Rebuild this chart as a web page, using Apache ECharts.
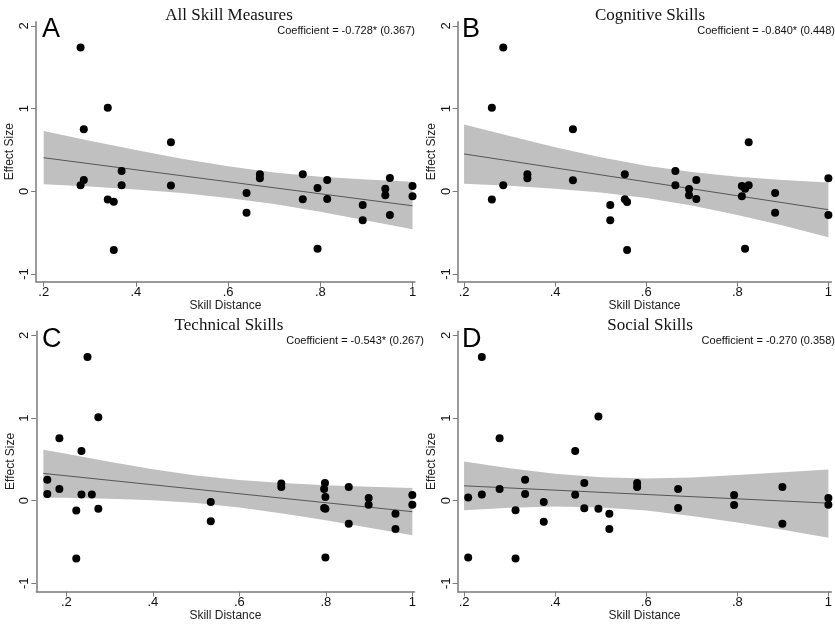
<!DOCTYPE html>
<html lang="en">
<head>
<meta charset="UTF-8">
<title>Skill distance and effect size</title>
<script src="https://cdn.jsdelivr.net/npm/echarts@6/dist/echarts.min.js"></script>
<style>
  html, body { margin: 0; padding: 0; background: #fff; }
  #chart { width: 835px; height: 624px; }
</style>
</head>
<body>
<div id="chart"></div>
<script>
// A - all skill measures
var distA = [0.280, 0.287, 0.287, 0.280, 0.339, 0.339, 0.352, 0.352, 0.369, 0.369, 0.476, 0.476, 0.640, 0.640, 0.669,
             0.669, 0.762, 0.762, 0.794, 0.794, 0.815, 0.815, 0.892, 0.892, 0.941, 0.941, 0.951, 0.951, 1.000, 1.000];
var effA = [1.74, 0.75, 0.137, 0.073, 1.01, -0.10, -0.125, -0.71, 0.246, 0.073, 0.593, 0.069, -0.02, -0.258, 0.206,
            0.157, 0.206, -0.097, 0.04, -0.694, 0.137, -0.093, -0.165, -0.35, 0.032, -0.048, 0.161, -0.286, 0.065, -0.06];
var bandXA = [0.2, 0.3, 0.4, 0.5, 0.6, 0.7, 0.8, 0.9, 1.0];
var bandHiA = [0.728, 0.612, 0.500, 0.395, 0.302, 0.228, 0.177, 0.142, 0.115];
var bandLoA = [0.084, 0.057, 0.022, -0.021, -0.080, -0.154, -0.247, -0.352, -0.458];
var fitXA = [0.2, 1.0];
var fitYA = [0.406, -0.175];

// B - cognitive skills
var distB = [0.286, 0.261, 0.261, 0.286, 0.339, 0.339, 0.439, 0.439, 0.521, 0.521, 0.553, 0.553, 0.558, 0.558, 0.664,
             0.664, 0.694, 0.694, 0.710, 0.710, 0.810, 0.810, 0.817, 0.817, 0.825, 0.825, 0.883, 0.883, 1.000, 1.000];
var effB = [1.74, 1.01, -0.10, 0.073, 0.206, 0.157, 0.75, 0.133, -0.165, -0.35, 0.206, -0.097, -0.129, -0.71, 0.246,
            0.073, 0.028, -0.048, 0.137, -0.093, 0.065, -0.06, 0.032, -0.694, 0.073, 0.593, -0.02, -0.258, 0.157, -0.286];
var bandXB = [0.2, 0.3, 0.4, 0.5, 0.6, 0.7, 0.8, 0.9, 1.0];
var bandHiB = [0.808, 0.669, 0.534, 0.412, 0.310, 0.233, 0.177, 0.138, 0.106];
var bandLoB = [0.092, 0.067, 0.032, -0.014, -0.080, -0.171, -0.285, -0.414, -0.554];
var fitXB = [0.2, 1.0];
var fitYB = [0.452, -0.222];

// C - technical skills
var distC = [0.156, 0.156, 0.184, 0.184, 0.223, 0.223, 0.235, 0.235, 0.249, 0.259, 0.274, 0.274, 0.534, 0.534, 0.697,
             0.697, 0.798, 0.796, 0.799, 0.796, 0.799, 0.799, 0.853, 0.853, 0.899, 0.899, 0.961, 0.961, 1.000, 1.000];
var effC = [0.254, 0.08, 0.757, 0.141, -0.12, -0.70, 0.60, 0.076, 1.74, 0.076, 1.01, -0.097, -0.016, -0.25, 0.209,
            0.165, 0.213, 0.141, 0.044, -0.089, -0.097, -0.688, 0.165, -0.278, 0.032, -0.048, -0.157, -0.342, 0.068, -0.048];
var bandXC = [0.147, 0.2, 0.3, 0.4, 0.5, 0.6, 0.7, 0.8, 0.9, 1.0];
var bandHiC = [0.615, 0.567, 0.470, 0.382, 0.304, 0.250, 0.215, 0.188, 0.168, 0.153];
var bandLoC = [0.035, 0.035, 0.024, 0.004, -0.028, -0.082, -0.155, -0.238, -0.326, -0.419];
var fitXC = [0.147, 1.0];
var fitYC = [0.330, -0.133];

// D - social skills
var distD = [0.209, 0.209, 0.239, 0.239, 0.278, 0.278, 0.313, 0.313, 0.334, 0.334, 0.375, 0.375, 0.444, 0.444, 0.464,
             0.464, 0.495, 0.495, 0.519, 0.519, 0.580, 0.580, 0.670, 0.670, 0.793, 0.793, 0.899, 0.899, 1.000, 1.000];
var effD = [0.04, -0.688, 1.74, 0.076, 0.757, 0.141, -0.117, -0.70, 0.254, 0.08, -0.016, -0.254, 0.60, 0.072, 0.213,
            -0.093, 1.02, -0.097, -0.157, -0.342, 0.213, 0.165, 0.141, -0.089, 0.068, -0.052, 0.165, -0.278, 0.032, -0.048];
var bandXD = [0.2, 0.3, 0.4, 0.5, 0.6, 0.7, 0.8, 0.9, 1.0];
var bandHiD = [0.475, 0.394, 0.327, 0.283, 0.270, 0.282, 0.310, 0.344, 0.378];
var bandLoD = [-0.115, -0.086, -0.071, -0.081, -0.120, -0.184, -0.264, -0.352, -0.448];
var fitXD = [0.2, 1.0];
var fitYD = [0.180, -0.030];

var titles = ['All Skill Measures', 'Cognitive Skills', 'Technical Skills', 'Social Skills'];
var letters = ['A', 'B', 'C', 'D'];
var coefs = ['Coefficient = -0.728* (0.367)', 'Coefficient = -0.840* (0.448)',
             'Coefficient = -0.543* (0.267)', 'Coefficient = -0.270 (0.358)'];
var xTicks = [0.2, 0.4, 0.6, 0.8, 1];
var yTicks = [-1, 0, 1, 2];

var panels = [
    {dist: distA, eff: effA, bx: bandXA, hi: bandHiA, lo: bandLoA, fx: fitXA, fy: fitYA,
     grid: {left: 36, top: 21.8, width: 378.8, height: 259.9}, xr: [0.1833, 1.005], yr: [-1.093, 2.05]},
    {dist: distB, eff: effB, bx: bandXB, hi: bandHiB, lo: bandLoB, fx: fitXB, fy: fitYB,
     grid: {left: 457.7, top: 21.8, width: 377.3, height: 259.9}, xr: [0.186, 1.0065], yr: [-1.093, 2.05]},
    {dist: distC, eff: effC, bx: bandXC, hi: bandHiC, lo: bandLoC, fx: fitXC, fy: fitYC,
     grid: {left: 36.3, top: 331.3, width: 378.2, height: 260.2}, xr: [0.1306, 1.005], yr: [-1.099, 2.05]},
    {dist: distD, eff: effD, bx: bandXD, hi: bandHiD, lo: bandLoD, fx: fitXD, fy: fitYD,
     grid: {left: 457.7, top: 331.3, width: 377.3, height: 260.2}, xr: [0.186, 1.0065], yr: [-1.099, 2.05]}
];

var axisGrey = '#7a7a7a';
var sans = '"Liberation Sans", Arial, sans-serif';

function bandRender(p) {
    return function (params, api) {
        if (params.dataIndex !== 0) return;
        var pts = [];
        for (var i = 0; i < p.bx.length; i++) pts.push(api.coord([p.bx[i], p.hi[i]]));
        for (var j = p.bx.length - 1; j >= 0; j--) pts.push(api.coord([p.bx[j], p.lo[j]]));
        return {type: 'polygon', shape: {points: pts}, style: {fill: '#c0c0c0'}};
    };
}

var grids = [], xAxes = [], yAxes = [], series = [], graphics = [];
panels.forEach(function (p, k) {
    grids.push(p.grid);
    xAxes.push({
        type: 'value', gridIndex: k, min: p.xr[0], max: p.xr[1],
        name: 'Skill Distance', nameLocation: 'middle', nameGap: 15,
        nameTextStyle: {fontFamily: sans, fontSize: 12, color: '#222'},
        axisLine: {onZero: false, lineStyle: {color: axisGrey, width: 1.5}},
        axisTick: {customValues: xTicks, length: 5, lineStyle: {color: axisGrey}},
        axisLabel: {customValues: xTicks, fontFamily: sans, fontSize: 13, color: '#111', margin: 4,
            formatter: function (v) { return v === 1 ? '1' : String(v).replace('0.', '.'); }},
        splitLine: {show: false}
    });
    yAxes.push({
        type: 'value', gridIndex: k, min: p.yr[0], max: p.yr[1],
        name: 'Effect Size', nameLocation: 'middle', nameGap: 20, nameRotate: 90,
        nameTextStyle: {fontFamily: sans, fontSize: 12, color: '#222'},
        axisLine: {onZero: false, lineStyle: {color: axisGrey, width: 1.5}},
        axisTick: {customValues: yTicks, length: 5, lineStyle: {color: axisGrey}},
        axisLabel: {customValues: yTicks, rotate: 90, fontFamily: sans, fontSize: 13, color: '#111', margin: 5},
        splitLine: {show: false}
    });
    series.push({
        type: 'custom', xAxisIndex: k, yAxisIndex: k, z: 1, silent: true,
        data: p.bx.map(function (x, i) { return [x, p.hi[i], p.lo[i]]; }),
        encode: {x: 0, y: [1, 2]},
        renderItem: bandRender(p)
    });
    series.push({
        type: 'line', xAxisIndex: k, yAxisIndex: k, z: 2, symbol: 'none', silent: true,
        data: p.fx.map(function (x, i) { return [x, p.fy[i]]; }),
        lineStyle: {color: '#555', width: 1}
    });
    series.push({
        type: 'scatter', xAxisIndex: k, yAxisIndex: k, z: 3, symbolSize: 8, clip: false,
        data: p.dist.map(function (x, i) { return [x, p.eff[i]]; }),
        itemStyle: {color: '#000', opacity: 1}
    });

    var cx = k % 2 === 0 ? 229 : 650;
    var top = k < 2 ? 0 : 310;
    graphics.push({type: 'text', x: cx, y: top + 16, z: 10,
        style: {text: titles[k], font: '17px "Liberation Serif", "Times New Roman", serif', fill: '#111',
                align: 'center', verticalAlign: 'middle'}});
    graphics.push({type: 'text', x: k % 2 === 0 ? 42 : 462, y: top + 30, z: 10,
        style: {text: letters[k], font: '27px ' + sans, fill: '#000', align: 'left', verticalAlign: 'middle'}});
    var cxr = k % 2 === 0 ? 415 : 835;
    if (k === 2) cxr = 424;
    graphics.push({type: 'text', x: cxr, y: top + 31, z: 10,
        style: {text: coefs[k], font: '11px ' + sans, fill: '#111', align: 'right', verticalAlign: 'middle'}});
});

var chart = echarts.init(document.getElementById('chart'));
chart.setOption({
    backgroundColor: '#fff',
    animation: false,
    grid: grids,
    xAxis: xAxes,
    yAxis: yAxes,
    series: series,
    graphic: graphics
});
</script>
</body>
</html>
